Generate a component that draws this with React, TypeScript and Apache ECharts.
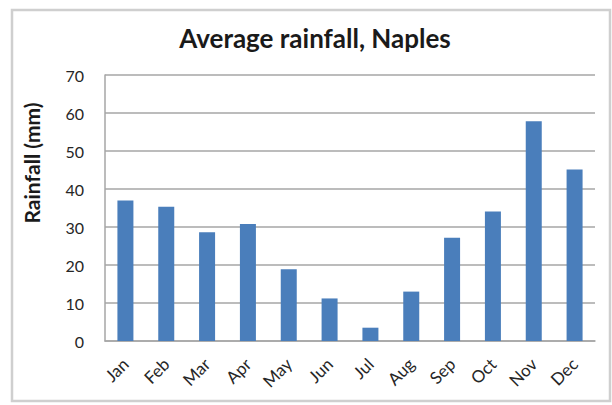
import React, { useEffect, useRef } from "react";
import * as echarts from "echarts";

const months = ["Jan", "Feb", "Mar", "Apr", "May", "Jun", "Jul", "Aug", "Sep", "Oct", "Nov", "Dec"];
const rainfall = [37, 35.3, 28.6, 30.8, 18.9, 11.2, 3.5, 13, 27.2, 34.1, 57.8, 45.1];
const chartTitle = "Average rainfall, Naples";
const yTitle = "Rainfall (mm)";

export default function App() {
  const ref = useRef<HTMLDivElement>(null);
  useEffect(() => {
    if (!ref.current) return;
    const chart = echarts.init(ref.current, undefined, { renderer: "svg" });
    const font = "Lato, 'Open Sans', sans-serif";
    chart.setOption({
      animation: false,
      backgroundColor: "#ffffff",
      graphic: [
        {
          type: "rect",
          shape: { x: 12, y: 10, width: 598, height: 391 },
          style: { fill: "none", stroke: "#cfcfcf", lineWidth: 2.5 },
          silent: true,
        },
      ],
      title: {
        text: chartTitle,
        left: 310,
        textAlign: "center",
        top: 20,
        textStyle: { fontFamily: font, fontSize: 26, fontWeight: "bold", color: "#1a1a1a" },
      },
      grid: { left: 105, right: 17, top: 75, bottom: 64 },
      xAxis: {
        type: "category",
        data: months,
        axisLine: { show: true, lineStyle: { color: "#a6a6a6", width: 1.5 } },
        axisTick: { show: false },
        axisLabel: {
          rotate: 45,
          interval: 0,
          margin: 20,
          fontFamily: font,
          fontSize: 17,
          color: "#262626",
        },
      },
      yAxis: {
        type: "value",
        min: 0,
        max: 70,
        interval: 10,
        name: yTitle,
        nameLocation: "middle",
        nameGap: 63,
        nameTextStyle: {
          fontFamily: font,
          fontSize: 21,
          fontWeight: "bold",
          color: "#1a1a1a",
          padding: [0, 0, 0, 90],
        },
        axisLine: { show: true, lineStyle: { color: "#a6a6a6", width: 1.5 } },
        axisTick: { show: false },
        axisLabel: { fontFamily: font, fontSize: 16, color: "#262626", margin: 21 },
        splitLine: { show: true, lineStyle: { color: "#a6a6a6", width: 1.5 } },
      },
      series: [
        {
          type: "bar",
          data: rainfall,
          barWidth: 16,
          itemStyle: { color: "#4a7ebb" },
        },
      ],
    });
    return () => chart.dispose();
  }, []);
  return <div ref={ref} style={{ position: "fixed", left: 0, top: 0, width: 612, height: 405 }} />;
}
